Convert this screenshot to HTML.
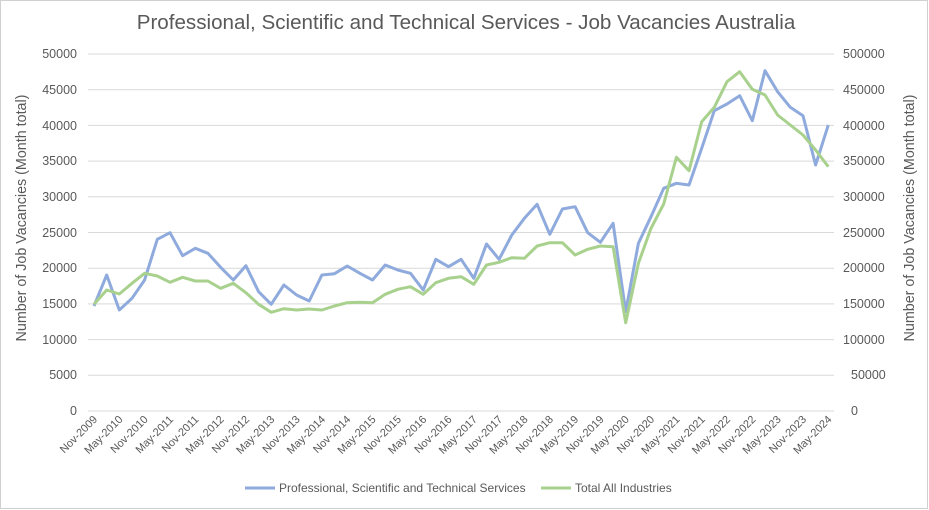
<!DOCTYPE html>
<html><head><meta charset="utf-8"><style>
html,body{margin:0;padding:0;background:#fff;}
svg{display:block;font-family:"Liberation Sans",sans-serif;}
</style></head><body>
<svg width="929" height="510" viewBox="0 0 929 510">
<rect x="0.5" y="0.5" width="927" height="508" fill="#fff" stroke="#d0d0d0"/>
<text x="466" y="29" text-anchor="middle" font-size="20.6" fill="#595959">Professional, Scientific and Technical Services - Job Vacancies Australia</text>
<g stroke="#d9d9d9" stroke-width="1">
<line x1="88" x2="834" y1="54" y2="54"/><line x1="88" x2="834" y1="89.7" y2="89.7"/><line x1="88" x2="834" y1="125.4" y2="125.4"/><line x1="88" x2="834" y1="161.1" y2="161.1"/><line x1="88" x2="834" y1="196.8" y2="196.8"/><line x1="88" x2="834" y1="232.5" y2="232.5"/><line x1="88" x2="834" y1="268.2" y2="268.2"/><line x1="88" x2="834" y1="303.9" y2="303.9"/><line x1="88" x2="834" y1="339.6" y2="339.6"/><line x1="88" x2="834" y1="375.3" y2="375.3"/><line x1="88" x2="834" y1="411" y2="411"/>
</g>
<g font-size="12.5" fill="#595959" text-anchor="end">
<text x="77" y="58">50000</text><text x="77" y="94">45000</text><text x="77" y="130">40000</text><text x="77" y="165">35000</text><text x="77" y="201">30000</text><text x="77" y="237">25000</text><text x="77" y="272">20000</text><text x="77" y="308">15000</text><text x="77" y="344">10000</text><text x="77" y="379">5000</text><text x="77" y="415">0</text>
</g>
<g font-size="12.5" fill="#595959" text-anchor="start">
<text x="843" y="58">500000</text><text x="843" y="94">450000</text><text x="843" y="130">400000</text><text x="843" y="165">350000</text><text x="843" y="201">300000</text><text x="843" y="237">250000</text><text x="843" y="272">200000</text><text x="843" y="308">150000</text><text x="843" y="344">100000</text><text x="851" y="379">50000</text><text x="851" y="415">0</text>
</g>
<text transform="translate(26,218) rotate(-90)" text-anchor="middle" font-size="14.3" fill="#595959">Number of Job Vacancies (Month total)</text>
<text transform="translate(914,218) rotate(-90)" text-anchor="middle" font-size="14.3" fill="#595959">Number of Job Vacancies (Month total)</text>
<g font-size="11" fill="#595959" text-anchor="end">
<text transform="translate(98,420) rotate(-45)">Nov-2009</text>
<text transform="translate(123.3,420) rotate(-45)">May-2010</text>
<text transform="translate(148.6,420) rotate(-45)">Nov-2010</text>
<text transform="translate(174,420) rotate(-45)">May-2011</text>
<text transform="translate(199.3,420) rotate(-45)">Nov-2011</text>
<text transform="translate(224.6,420) rotate(-45)">May-2012</text>
<text transform="translate(250,420) rotate(-45)">Nov-2012</text>
<text transform="translate(275.2,420) rotate(-45)">May-2013</text>
<text transform="translate(300.6,420) rotate(-45)">Nov-2013</text>
<text transform="translate(325.9,420) rotate(-45)">May-2014</text>
<text transform="translate(351.2,420) rotate(-45)">Nov-2014</text>
<text transform="translate(376.5,420) rotate(-45)">May-2015</text>
<text transform="translate(401.8,420) rotate(-45)">Nov-2015</text>
<text transform="translate(427.2,420) rotate(-45)">May-2016</text>
<text transform="translate(452.5,420) rotate(-45)">Nov-2016</text>
<text transform="translate(477.8,420) rotate(-45)">May-2017</text>
<text transform="translate(503.1,420) rotate(-45)">Nov-2017</text>
<text transform="translate(528.4,420) rotate(-45)">May-2018</text>
<text transform="translate(553.8,420) rotate(-45)">Nov-2018</text>
<text transform="translate(579.1,420) rotate(-45)">May-2019</text>
<text transform="translate(604.4,420) rotate(-45)">Nov-2019</text>
<text transform="translate(629.7,420) rotate(-45)">May-2020</text>
<text transform="translate(655,420) rotate(-45)">Nov-2020</text>
<text transform="translate(680.4,420) rotate(-45)">May-2021</text>
<text transform="translate(705.7,420) rotate(-45)">Nov-2021</text>
<text transform="translate(731,420) rotate(-45)">May-2022</text>
<text transform="translate(756.3,420) rotate(-45)">Nov-2022</text>
<text transform="translate(781.6,420) rotate(-45)">May-2023</text>
<text transform="translate(807,420) rotate(-45)">Nov-2023</text>
<text transform="translate(832.3,420) rotate(-45)">May-2024</text>
</g>
<polyline fill="none" stroke="#8faadc" stroke-width="3" stroke-linejoin="round" points="94,306 106.7,275 119.3,310 132,298.3 144.6,280 157.3,239.3 170,232.7 182.6,255.7 195.3,248.3 207.9,253.3 220.6,267.3 233.3,280 245.9,265.7 258.6,291.7 271.2,304.3 283.9,285 296.6,295 309.2,301 321.9,275 334.5,273.7 347.2,266 359.9,273.3 372.5,280 385.2,265 397.8,270 410.5,273.3 423.2,290 435.8,259.3 448.5,266.7 461.1,259.3 473.8,278.3 486.5,244 499.1,259.3 511.8,235 524.4,218.3 537.1,204.3 549.8,234.3 562.4,209 575.1,206.7 587.7,232.7 600.4,242.3 613.1,223.3 625.7,311.7 638.4,243.3 651,216.7 663.7,188.3 676.4,183.3 689,185 701.7,148.3 714.3,110.7 727,104 739.7,95.7 752.3,120.7 765,70.7 777.6,91.7 790.3,107.3 803,115.7 815.6,165 828.3,125"/>
<polyline fill="none" stroke="#a9d18e" stroke-width="3" stroke-linejoin="round" points="94,304.3 106.7,290 119.3,294 132,283.3 144.6,273.3 157.3,276 170,282.3 182.6,277.3 195.3,281 207.9,281 220.6,288.3 233.3,283.3 245.9,292.7 258.6,304.3 271.2,312.3 283.9,308.7 296.6,310 309.2,309 321.9,310 334.5,306 347.2,302.7 359.9,302.3 372.5,302.7 385.2,294.3 397.8,289.3 410.5,286.7 423.2,294.3 435.8,282.7 448.5,278.3 461.1,276.7 473.8,284.3 486.5,265 499.1,262.3 511.8,257.7 524.4,258.3 537.1,246 549.8,242.7 562.4,242.7 575.1,255 587.7,249.3 600.4,246 613.1,246.7 625.7,322.7 638.4,263.3 651,228.3 663.7,204 676.4,157.3 689,170.7 701.7,121.7 714.3,107.3 727,81.7 739.7,71.7 752.3,89.3 765,95 777.6,115 790.3,125 803,135 815.6,150 828.3,166.7"/>
<line x1="245" x2="275" y1="488" y2="488" stroke="#8faadc" stroke-width="3"/>
<text x="279" y="492" font-size="12" fill="#595959">Professional, Scientific and Technical Services</text>
<line x1="541" x2="571" y1="488" y2="488" stroke="#a9d18e" stroke-width="3"/>
<text x="575" y="492" font-size="12" fill="#595959">Total All Industries</text>
</svg>
</body></html>
